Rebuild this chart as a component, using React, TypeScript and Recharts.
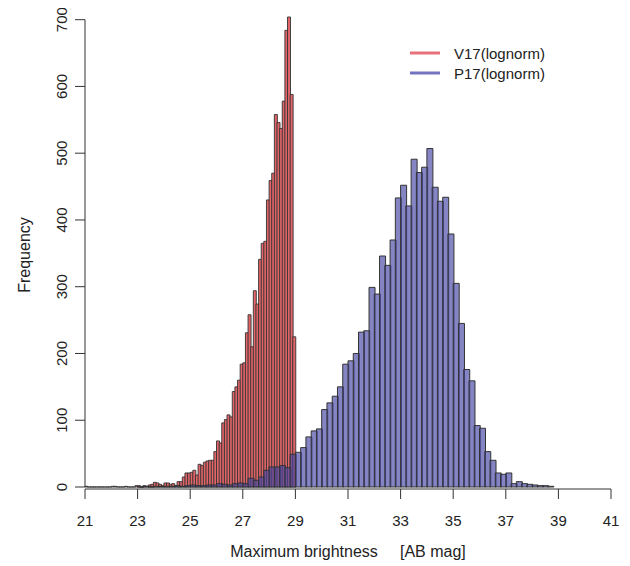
import React from "react";
import { ComposedChart, Bar, XAxis, YAxis, Legend, ReferenceLine } from "recharts";

const FONT = "'Liberation Sans', Arial, Helvetica, sans-serif";

// V17 counts, 0.1 mag bins starting at 21.0
const redStart = 21.0;
const redCounts = [
  1, 0, 0, 0, 0, 0, 0, 0, 0, 0,
  1, 1, 0, 0, 0, 1, 0, 0, 0, 2,
  2, 0, 2, 1, 3, 4, 7, 6, 4, 2,
  6, 6, 4, 5, 2, 8, 8, 15, 21, 21,
  22, 25, 18, 34, 32, 37, 39, 40, 40, 53,
  69, 66, 96, 101, 108, 105, 143, 150, 160, 184,
  186, 231, 258, 210, 294, 274, 341, 365, 368, 430,
  459, 470, 558, 546, 537, 578, 684, 704, 588, 225,
];

// P17 counts, 0.2 mag bins starting at 23.0
const blueStart = 23.0;
const blueCounts = [
  0, 1, 0, 1, 1, 1, 1, 2, 1, 2,
  3, 2, 2, 3, 3, 5, 4, 3, 5, 6,
  5, 13, 10, 15, 25, 30, 30, 32, 29, 49,
  52, 59, 75, 84, 87, 116, 126, 136, 150, 184,
  189, 200, 232, 234, 299, 289, 346, 332, 370, 433,
  452, 421, 491, 471, 479, 507, 449, 428, 434, 379,
  305, 245, 176, 159, 92, 88, 53, 40, 21, 19,
  21, 5, 8, 5, 4, 3, 2, 2, 1,
];

const xTicks = [21, 23, 25, 27, 29, 31, 33, 35, 37, 39, 41];
const yTicks = [0, 100, 200, 300, 400, 500, 600, 700];

const seriesNames = { red: "V17(lognorm)", blue: "P17(lognorm)" };
const legendOrder = ["red", "blue"];
const legendColors: Record<string, string> = { red: "#e8707a", blue: "#7474c0" };

// one row per 0.1 mag step, blue only on every second row
const nRows = Math.round((blueStart + blueCounts.length * 0.2 - redStart) / 0.1);
const offset = Math.round((blueStart - redStart) / 0.1);
const data = Array.from({ length: nRows }, (_, i) => {
  const j = i - offset;
  return {
    x: Math.round((redStart + i * 0.1 + 0.05) * 100) / 100,
    red: i < redCounts.length ? redCounts[i] : null,
    blue: j >= 0 && j % 2 === 0 ? blueCounts[j / 2] : null,
  };
});

const histPath = (x: number, y: number, w: number, h: number) =>
  `M${x},${y + h}L${x},${y}L${x + w},${y}L${x + w},${y + h}Z`;

const RedBar = (props: any) => {
  const { x, y, width, height, payload } = props;
  if (payload == null || payload.red == null) return <g />;
  return <path d={histPath(x, y, width, height)} fill="#e06468" stroke="#333" strokeWidth={0.9} />;
};

const BlueBar = (props: any) => {
  const { x, y, width, height, payload } = props;
  if (payload == null || payload.blue == null) return <g />;
  return (
    <path
      d={histPath(x, y, width * 2, height)}
      fill="rgba(70,70,165,0.66)"
      stroke="#333"
      strokeWidth={1}
    />
  );
};

const YTick = (props: any) => {
  const { x, y, payload } = props;
  return (
    <text
      x={x}
      y={y}
      transform={`rotate(-90 ${x} ${y})`}
      textAnchor="middle"
      fontSize={15}
      fill="#222"
      fontFamily={FONT}
    >
      {payload.value}
    </text>
  );
};

const renderLegend = (props: any) => {
  const entries = [...(props.payload || [])].sort(
    (a: any, b: any) => legendOrder.indexOf(a.dataKey) - legendOrder.indexOf(b.dataKey)
  );
  return (
    <div style={{ fontFamily: FONT, fontSize: 15, color: "#222" }}>
      {entries.map((e: any) => (
        <div key={e.value} style={{ display: "flex", alignItems: "center", height: 20 }}>
          <svg width={30} height={4} style={{ marginRight: 14 }}>
            <line x1={0} x2={30} y1={2} y2={2} stroke={legendColors[e.dataKey]} strokeWidth={3} />
          </svg>
          <span>{e.value}</span>
        </div>
      ))}
    </div>
  );
};

export default function App() {
  return (
    <ComposedChart
      width={622}
      height={558}
      data={data}
      margin={{ top: 5, right: 19, left: 17, bottom: 37 }}
      barCategoryGap={0}
      barGap={0}
    >
      <XAxis
        xAxisId="red"
        type="number"
        dataKey="x"
        domain={[21, 41]}
        ticks={xTicks}
        interval={0}
        height={40}
        tickSize={10}
        tickMargin={16}
        axisLine={{ stroke: "#333" }}
        tickLine={{ stroke: "#333" }}
        tick={{ fill: "#222", fontSize: 15, fontFamily: FONT }}
        label={{
          content: (p: any) => (
            <text
              x={p.viewBox.x + p.viewBox.width / 2}
              y={p.viewBox.y + 68}
              textAnchor="middle"
              fontSize={16}
              fill="#222"
              fontFamily={FONT}
              style={{ whiteSpace: "pre" }}
            >
              {"Maximum brightness     [AB mag]"}
            </text>
          ),
        }}
      />
      <XAxis xAxisId="blue" type="number" dataKey="x" domain={[21, 41]} height={0} hide />
      <YAxis
        type="number"
        domain={[-3, 710]}
        ticks={yTicks}
        interval={0}
        width={60}
        tickSize={10}
        tickMargin={8}
        axisLine={false}
        tickLine={{ stroke: "#333" }}
        tick={<YTick />}
        label={{
          content: (p: any) => {
            const cx = p.viewBox.x + 5;
            const cy = p.viewBox.y + p.viewBox.height / 2 + 4;
            return (
              <text
                x={cx}
                y={cy}
                transform={`rotate(-90 ${cx} ${cy})`}
                textAnchor="middle"
                fontSize={16}
                fill="#222"
                fontFamily={FONT}
              >
                Frequency
              </text>
            );
          },
        }}
      />
      <ReferenceLine
        xAxisId="red"
        segment={[
          { x: 21, y: 0 },
          { x: 21, y: 700 },
        ]}
        stroke="#333"
      />
      <Bar
        xAxisId="red"
        dataKey="red"
        name={seriesNames.red}
        fill="#e06468"
        shape={<RedBar />}
        isAnimationActive={false}
      />
      <Bar
        xAxisId="blue"
        dataKey="blue"
        name={seriesNames.blue}
        fill="#7474c0"
        shape={<BlueBar />}
        isAnimationActive={false}
      />
      <Legend
        layout="horizontal"
        verticalAlign="middle"
        align="center"
        content={renderLegend}
        wrapperStyle={{ position: "absolute", left: 402, top: 35, width: 200, height: 40 }}
      />
    </ComposedChart>
  );
}
